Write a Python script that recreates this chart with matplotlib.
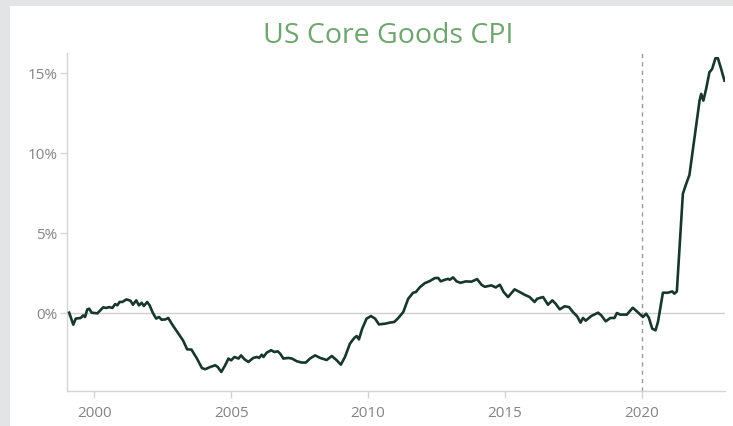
import matplotlib.pyplot as plt
from matplotlib.patches import Rectangle
from matplotlib.ticker import FuncFormatter

# decimal year, core goods CPI y/y in %
years = [1999.08, 1999.23, 1999.32, 1999.50, 1999.59, 1999.66, 1999.74, 1999.81, 1999.90,
         2000.11, 2000.32, 2000.44, 2000.54, 2000.66, 2000.76, 2000.84, 2000.92,
         2001.02, 2001.17, 2001.32, 2001.41, 2001.53, 2001.63, 2001.73, 2001.81, 2001.93,
         2002.02, 2002.14, 2002.26, 2002.36, 2002.46, 2002.60, 2002.70, 2002.85,
         2003.03, 2003.24, 2003.39, 2003.55, 2003.75, 2003.93,
         2004.05, 2004.23, 2004.42, 2004.51, 2004.64, 2004.78, 2004.90,
         2005.00, 2005.12, 2005.27, 2005.36, 2005.49, 2005.63, 2005.81, 2005.94,
         2006.02, 2006.12, 2006.18, 2006.30, 2006.46, 2006.58, 2006.70, 2006.79, 2006.91,
         2007.09, 2007.22, 2007.40, 2007.58, 2007.73, 2007.88,
         2008.07, 2008.25, 2008.49, 2008.68, 2008.86,
         2009.01, 2009.16, 2009.34, 2009.50, 2009.59, 2009.67, 2009.79, 2009.95,
         2010.11, 2010.26, 2010.40, 2010.62, 2010.80, 2010.96,
         2011.11, 2011.29, 2011.47, 2011.65, 2011.75, 2011.90,
         2012.08, 2012.26, 2012.45, 2012.57, 2012.66, 2012.81, 2012.93, 2012.99,
         2013.11, 2013.24, 2013.38, 2013.58, 2013.78, 2013.99,
         2014.15, 2014.27, 2014.51, 2014.67, 2014.82, 2014.96,
         2015.12, 2015.36, 2015.55, 2015.73, 2015.91,
         2016.09, 2016.18, 2016.40, 2016.58, 2016.74, 2016.86,
         2017.01, 2017.19, 2017.35, 2017.49, 2017.64, 2017.77, 2017.86, 2017.96,
         2018.16, 2018.41, 2018.53, 2018.69, 2018.86,
         2019.01, 2019.10, 2019.22, 2019.46, 2019.68, 2019.83,
         2020.05, 2020.17, 2020.27, 2020.39, 2020.51, 2020.60, 2020.78, 2020.96,
         2021.12, 2021.20, 2021.29, 2021.51, 2021.61, 2021.75, 2021.93,
         2022.12, 2022.18, 2022.26, 2022.36, 2022.48, 2022.58, 2022.70, 2022.79, 2022.91,
         2023.03]
cpi = [0.00, -0.75, -0.37, -0.33, -0.17, -0.27, 0.20, 0.25, 0.00,
       -0.04, 0.33, 0.30, 0.35, 0.30, 0.54, 0.46, 0.67,
       0.67, 0.83, 0.75, 0.50, 0.77, 0.46, 0.62, 0.42, 0.67,
       0.46, -0.02, -0.37, -0.27, -0.44, -0.42, -0.33, -0.75,
       -1.20, -1.73, -2.29, -2.31, -2.87, -3.46,
       -3.54, -3.40, -3.29, -3.40, -3.71, -3.29, -2.87,
       -2.98, -2.77, -2.87, -2.67, -2.92, -3.08, -2.83, -2.77,
       -2.83, -2.63, -2.77, -2.50, -2.35, -2.46, -2.42, -2.56, -2.87,
       -2.83, -2.87, -3.04, -3.12, -3.12, -2.87,
       -2.67, -2.83, -2.96, -2.71, -2.98,
       -3.25, -2.77, -1.94, -1.58, -1.46, -1.67, -1.00, -0.37,
       -0.21, -0.37, -0.73, -0.69, -0.62, -0.58,
       -0.33, 0.04, 0.87, 1.25, 1.29, 1.60,
       1.85, 1.98, 2.17, 2.17, 1.96, 2.06, 2.12, 2.06,
       2.21, 1.96, 1.87, 1.96, 1.94, 2.10,
       1.75, 1.62, 1.71, 1.58, 1.75, 1.29,
       0.98, 1.46, 1.29, 1.12, 0.98,
       0.67, 0.87, 0.98, 0.50, 0.77, 0.56,
       0.21, 0.40, 0.35, 0.04, -0.21, -0.62, -0.33, -0.50,
       -0.21, 0.00, -0.17, -0.54, -0.33,
       -0.33, -0.02, -0.12, -0.12, 0.31, 0.08,
       -0.27, -0.06, -0.33, -1.00, -1.10, -0.58, 1.25, 1.25,
       1.33, 1.19, 1.33, 7.44, 7.96, 8.62, 10.87,
       13.27, 13.69, 13.27, 14.00, 15.04, 15.25, 15.92, 15.92, 15.25,
       14.52]

x_ticks = [2000, 2005, 2010, 2015, 2020]
y_ticks = [0, 5, 10, 15]
covid_marker = 2020.0

plt.rcParams['font.family'] = ['Open Sans', 'DejaVu Sans']

fig = plt.figure(figsize=(7.33, 4.27), dpi=100)
fig.patch.set_facecolor("#e3e4e6")
# white card behind the chart
fig.patches.append(Rectangle((10 / 733, 0), 1, 1 - 7 / 427, transform=fig.transFigure,
                             facecolor="white", edgecolor="none", zorder=-10))

ax = fig.add_axes([67 / 733, 1 - 392 / 427, (725 - 67) / 733, (392 - 54) / 427])
ax.set_facecolor("none")
ax.set_zorder(5)

ax.axhline(0, color="#cfcfcf", lw=1.0, zorder=1)
ax.axvline(covid_marker, color="#9a9a9a", lw=1.0, ls=(0, (3, 3)), zorder=1)
ax.plot(years, cpi, color="#17362c", lw=1.9, solid_joinstyle="round", zorder=3)

ax.set_xlim(1999.0, 2023.05)
ax.set_ylim(-4.9, 16.25)
ax.set_xticks(x_ticks)
ax.set_yticks(y_ticks)
ax.yaxis.set_major_formatter(FuncFormatter(lambda v, p: f"{v:.0f}%"))

for s in ["top", "right"]:
    ax.spines[s].set_visible(False)
for s in ["left", "bottom"]:
    ax.spines[s].set_color("#d4d4d4")
    ax.spines[s].set_linewidth(1.0)
ax.tick_params(colors="#d4d4d4", labelcolor="#848484", labelsize=11, length=5, width=1)
ax.tick_params(axis="x", pad=5)
ax.tick_params(axis="y", pad=2)

fig.text(388 / 733, 1 - 36 / 427, "US Core Goods CPI", ha="center", va="center",
         fontsize=20.5, color="#6fa56f")

fig.savefig("out.png", dpi=100)
